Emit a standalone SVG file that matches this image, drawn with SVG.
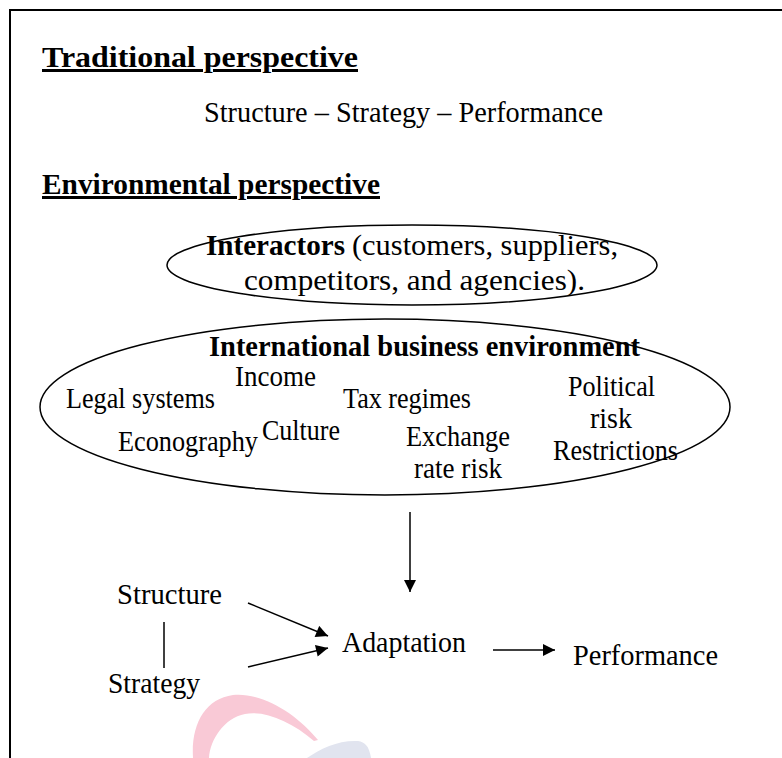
<svg xmlns="http://www.w3.org/2000/svg" width="782" height="758" viewBox="0 0 782 758">
<defs>
<style>
text{font-family:"Liberation Serif","Times New Roman",serif;fill:#000;}
.r{font-size:28.5px;}
.b{font-size:30px;font-weight:bold;}
.u{text-decoration:underline;}
.ln{stroke:#000;stroke-width:1.5;fill:none;}
.el{stroke:#000;stroke-width:1.5;fill:none;}
</style>
<marker id="ahB" viewBox="0 0 10 10" refX="10" refY="5" markerWidth="14" markerHeight="12" markerUnits="userSpaceOnUse" orient="auto">
<path d="M0,0 L10,5 L0,10 z" fill="#000"/>
</marker>
</defs>
<rect width="782" height="758" fill="#fff"/>
<!-- watermark -->
<path d="M193,758 C191,724 205,699 233,695 C263,692 298,715 318,740 L314,741 C292,722 265,710 245,714 C224,718 210,740 209,758 Z" fill="#f9c9d6"/>
<path d="M307,758 C321,748 339,740 358,741 C365,742 369,746 371,758 Z" fill="#e1e4ef"/>
<!-- border -->
<path d="M10,758 L10,10 L782,10" stroke="#000" stroke-width="2" fill="none"/>
<g id="traditional">
<text class="b u" x="42" y="67" textLength="316" lengthAdjust="spacingAndGlyphs">Traditional perspective</text>
<text class="r" x="204" y="122" textLength="399" lengthAdjust="spacingAndGlyphs">Structure – Strategy – Performance</text>
</g>
<g id="environmental-heading">
<text class="b u" x="42" y="194" textLength="338" lengthAdjust="spacingAndGlyphs">Environmental perspective</text>
</g>
<g id="interactors">
<ellipse class="el" cx="412" cy="265" rx="245" ry="40"/>
<text class="b" x="206" y="255" textLength="139" lengthAdjust="spacingAndGlyphs">Interactors</text>
<text class="r" x="352" y="255" textLength="266" lengthAdjust="spacingAndGlyphs">(customers, suppliers,</text>
<text class="r" x="244" y="290" textLength="341" lengthAdjust="spacingAndGlyphs">competitors, and agencies).</text>
</g>
<g id="international-environment">
<ellipse class="el" cx="385" cy="407" rx="345" ry="88"/>
<text class="b" x="209" y="356" textLength="431" lengthAdjust="spacingAndGlyphs">International business environment</text>
<text class="r" x="235" y="386" textLength="81" lengthAdjust="spacingAndGlyphs">Income</text>
<text class="r" x="66" y="408" textLength="149" lengthAdjust="spacingAndGlyphs">Legal systems</text>
<text class="r" x="343" y="408" textLength="128" lengthAdjust="spacingAndGlyphs">Tax regimes</text>
<text class="r" x="568" y="396" textLength="87" lengthAdjust="spacingAndGlyphs">Political</text>
<text class="r" x="590" y="428" textLength="42" lengthAdjust="spacingAndGlyphs">risk</text>
<text class="r" x="553" y="460" textLength="125" lengthAdjust="spacingAndGlyphs">Restrictions</text>
<text class="r" x="262" y="440" textLength="78" lengthAdjust="spacingAndGlyphs">Culture</text>
<text class="r" x="118" y="451" textLength="140" lengthAdjust="spacingAndGlyphs">Econography</text>
<text class="r" x="406" y="446" textLength="104" lengthAdjust="spacingAndGlyphs">Exchange</text>
<text class="r" x="414" y="478" textLength="88" lengthAdjust="spacingAndGlyphs">rate risk</text>
</g>
<g id="structure"><text class="r" x="117" y="604" textLength="105" lengthAdjust="spacingAndGlyphs">Structure</text></g>
<g id="strategy"><text class="r" x="108" y="693" textLength="92" lengthAdjust="spacingAndGlyphs">Strategy</text></g>
<g id="adaptation"><text class="r" x="342" y="652" textLength="124" lengthAdjust="spacingAndGlyphs">Adaptation</text></g>
<g id="performance"><text class="r" x="573" y="665" textLength="145" lengthAdjust="spacingAndGlyphs">Performance</text></g>
<g id="connectors">
<line class="ln" x1="410" y1="512" x2="410" y2="592" marker-end="url(#ahB)"/>
<line class="ln" x1="164" y1="622" x2="164" y2="668"/>
<line class="ln" x1="248" y1="603" x2="328" y2="636" marker-end="url(#ahB)"/>
<line class="ln" x1="248" y1="667" x2="328" y2="648" marker-end="url(#ahB)"/>
<line class="ln" x1="493" y1="650" x2="555" y2="650" marker-end="url(#ahB)"/>
</g>
</svg>
